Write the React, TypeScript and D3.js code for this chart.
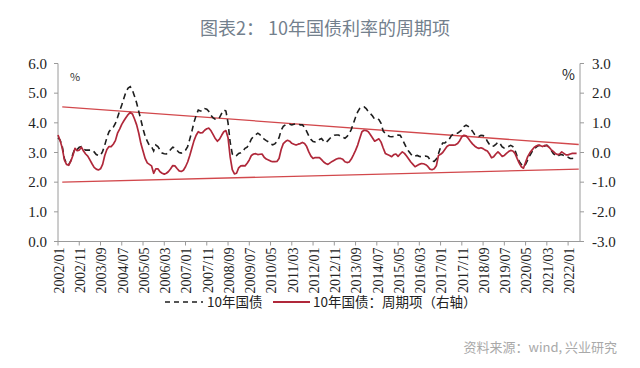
import React from "react";
import * as d3 from "d3";

// 10-year government bond yield (%), monthly from 2002/01
const yield10y: number[] = [
  3.5,3.42,3.2,2.8,2.62,2.58,2.72,2.95,3.14,3.1,
  3.18,3.2,3.12,3.08,3.08,3.08,3.08,3.02,2.93,2.9,
  2.9,3.04,3.25,3.5,3.7,3.79,3.85,3.98,4.18,4.4,
  4.6,4.83,5.05,5.17,5.22,5.1,4.9,4.67,4.38,4.1,
  3.8,3.55,3.38,3.24,3.2,3.05,3.25,3.2,3.08,2.98,
  2.96,2.95,3.02,3.1,3.18,3.15,3.07,3.0,2.98,3.02,
  3.08,3.2,3.45,3.72,4.02,4.25,4.43,4.4,4.4,4.48,
  4.46,4.38,4.25,4.17,4.12,4.11,4.18,4.32,4.43,4.4,
  4.0,3.35,2.95,2.87,2.9,2.97,2.99,3.05,3.14,3.18,
  3.3,3.46,3.54,3.6,3.65,3.6,3.52,3.45,3.4,3.36,
  3.29,3.26,3.29,3.37,3.5,3.75,3.88,3.93,3.95,3.95,
  3.93,3.95,3.97,3.96,3.93,3.93,3.85,3.71,3.56,3.44,
  3.37,3.36,3.38,3.44,3.47,3.38,3.33,3.4,3.48,3.54,
  3.58,3.59,3.59,3.55,3.51,3.48,3.54,3.63,3.78,3.98,
  4.19,4.37,4.49,4.54,4.54,4.48,4.38,4.31,4.23,4.12,
  4.13,4.11,3.98,3.72,3.64,3.58,3.54,3.53,3.54,3.58,
  3.59,3.58,3.45,3.3,3.15,3.04,2.95,2.87,2.88,2.9,
  2.87,2.86,2.86,2.88,2.86,2.76,2.71,2.7,2.78,2.96,
  3.17,3.32,3.32,3.38,3.44,3.56,3.62,3.65,3.65,3.7,
  3.76,3.87,3.92,3.88,3.81,3.72,3.61,3.56,3.54,3.58,
  3.57,3.52,3.38,3.27,3.2,3.22,3.27,3.35,3.3,3.19,
  3.15,3.17,3.2,3.24,3.2,3.08,2.88,2.7,2.6,2.53,
  2.6,2.75,2.9,3.02,3.12,3.18,3.23,3.25,3.21,3.22,
  3.25,3.18,3.08,2.97,2.9,2.87,2.92,2.93,2.9,2.86,
  2.84,2.8,2.8,2.81,2.82,
];

// Cycle component (%), right axis
const cycle: number[] = [
  0.59,0.40,0.15,-0.25,-0.40,-0.43,-0.30,-0.10,0.14,0.06,
  0.08,0.18,0.05,-0.05,-0.12,-0.25,-0.38,-0.50,-0.56,-0.59,
  -0.55,-0.40,-0.10,0.10,0.20,0.20,0.28,0.40,0.65,0.79,
  0.95,1.07,1.18,1.28,1.35,1.30,1.13,0.93,0.65,0.30,
  0.05,-0.20,-0.35,-0.40,-0.45,-0.70,-0.55,-0.55,-0.65,-0.70,
  -0.73,-0.70,-0.64,-0.55,-0.44,-0.45,-0.54,-0.62,-0.64,-0.60,
  -0.48,-0.32,-0.10,0.15,0.40,0.58,0.70,0.66,0.67,0.75,
  0.80,0.82,0.73,0.60,0.47,0.38,0.45,0.58,0.70,0.74,
  0.50,-0.15,-0.58,-0.72,-0.70,-0.52,-0.45,-0.44,-0.45,-0.36,
  -0.25,-0.10,-0.05,-0.04,-0.07,-0.06,-0.05,-0.16,-0.22,-0.25,
  -0.29,-0.31,-0.31,-0.30,-0.20,0.10,0.30,0.37,0.41,0.38,
  0.31,0.28,0.25,0.28,0.30,0.34,0.30,0.20,0.02,-0.12,
  -0.20,-0.17,-0.17,-0.17,-0.24,-0.32,-0.37,-0.40,-0.35,-0.30,
  -0.26,-0.22,-0.20,-0.20,-0.23,-0.31,-0.34,-0.32,-0.22,-0.08,
  0.07,0.25,0.48,0.70,0.75,0.74,0.70,0.60,0.49,0.38,
  0.42,0.46,0.35,0.15,-0.03,-0.07,-0.10,-0.14,-0.07,-0.05,
  -0.13,-0.05,0.02,-0.03,-0.12,-0.22,-0.32,-0.40,-0.48,-0.44,
  -0.40,-0.37,-0.38,-0.41,-0.47,-0.56,-0.58,-0.55,-0.45,-0.10,
  -0.06,0.00,0.10,0.20,0.25,0.25,0.25,0.26,0.30,0.40,
  0.53,0.58,0.56,0.48,0.38,0.29,0.22,0.17,0.14,0.16,
  0.13,0.08,0.05,-0.05,-0.18,-0.14,-0.05,0.02,-0.05,-0.13,
  -0.10,-0.03,0.03,0.07,0.05,-0.03,-0.20,-0.36,-0.48,-0.53,
  -0.33,-0.14,-0.01,0.08,0.17,0.22,0.25,0.23,0.20,0.24,
  0.23,0.18,0.10,0.04,-0.03,-0.07,-0.05,0.02,-0.03,-0.08,
  -0.08,-0.05,-0.03,-0.03,-0.03,
];

// Month categories
const months: string[] = yield10y.map((_, i) => {
  const y = 2002 + Math.floor(i / 12);
  const m = (i % 12) + 1;
  return `${y}/${m < 10 ? "0" + m : m}`;
});

const xTickLabels: string[] = [
  "2002/01","2002/11","2003/09","2004/07","2005/05","2006/03","2007/01",
  "2007/11","2008/09","2009/07","2010/05","2011/03","2012/01","2012/11",
  "2013/09","2014/07","2015/05","2016/03","2017/01","2017/11","2018/09",
  "2019/07","2020/05","2021/03","2022/01",
];

const leftTicks: number[] = [0, 1, 2, 3, 4, 5, 6];
const rightTicks: number[] = [-3, -2, -1, 0, 1, 2, 3];

// Trend channel lines on the cycle (right) axis
const upperTrendMonths: string[] = ["2002/03", "2022/06"];
const upperTrendValues: number[] = [1.54, 0.27];
const lowerTrendMonths: string[] = ["2002/03", "2022/06"];
const lowerTrendValues: number[] = [-1.0, -0.56];

const legendLabels: string[] = ["10年国债", "10年国债：周期项（右轴）"];

const monthIndex = (s: string) => {
  const [y, m] = s.split("/").map(Number);
  return (y - 2002) * 12 + (m - 1);
};

export default function App() {
  const W = 640, H = 368;
  const left = 58, right = 580, top = 63.5, bottom = 241.5;
  const x = d3.scaleLinear().domain([0, 245.6]).range([left, right]);
  const yL = d3.scaleLinear().domain([0, 6]).range([bottom, top]);
  const yR = d3.scaleLinear().domain([-3, 3]).range([bottom, top]);

  const yieldLine = d3.line<number>().x((_, i) => x(i)).y((d) => yL(d));
  const cycleLine = d3.line<number>().x((_, i) => x(i)).y((d) => yR(d));
  const trendLine = (ms: string[], vs: number[]) =>
    d3.line<number>().x((_, i) => x(monthIndex(ms[i]))).y((d) => yR(d))(vs) || "";

  const axisColor = "#9a9a9a";
  const serif = "'Liberation Serif', 'Times New Roman', serif";
  const cjk = "'Noto Sans CJK SC', 'Noto Sans', sans-serif";
  const red = "#b0283a";
  const trendRed = "#d2484c";

  return (
    <svg width={W} height={H} style={{ position: "absolute", left: 0, top: 0 }}>
      <rect width={W} height={H} fill="#fff" />
      {/* Title */}
      <text x={200} y={35} fontFamily={cjk} fontSize={18} fill="#73808d">图表2：</text>
      <text x={268} y={35} fontFamily={cjk} fontSize={18} fill="#73808d">10年国债利率的周期项</text>

      {/* Axes */}
      <line x1={left} x2={left} y1={top} y2={bottom} stroke={axisColor} />
      <line x1={right} x2={right} y1={top} y2={bottom} stroke={axisColor} />
      <line x1={left} x2={right} y1={bottom} y2={bottom} stroke={axisColor} />

      {leftTicks.map((t) => (
        <g key={"l" + t}>
          <line x1={left - 4} x2={left} y1={yL(t)} y2={yL(t)} stroke={axisColor} />
          <text x={left - 11} y={yL(t)} dy="0.35em" textAnchor="end" fontFamily={serif} fontSize={15} fill="#222">
            {t.toFixed(1)}
          </text>
        </g>
      ))}
      {rightTicks.map((t) => (
        <g key={"r" + t}>
          <line x1={right} x2={right + 4} y1={yR(t)} y2={yR(t)} stroke={axisColor} />
          <text x={592} y={yR(t)} dy="0.35em" textAnchor="start" fontFamily={serif} fontSize={15} fill="#222">
            {t.toFixed(1)}
          </text>
        </g>
      ))}
      {xTickLabels.map((lab) => {
        const xi = x(monthIndex(lab));
        return (
          <g key={lab}>
            <line x1={xi} x2={xi} y1={bottom} y2={bottom + 4} stroke={axisColor} />
            <text
              transform={`translate(${xi + 1},${bottom + 6}) rotate(-90)`}
              dy="0.35em"
              textAnchor="end"
              fontFamily={serif}
              fontSize={14}
              fill="#222"
            >
              {lab}
            </text>
          </g>
        );
      })}

      <text x={70} y={77} dy="0.35em" fontFamily={cjk} fontSize={11} fill="#333">%</text>
      <text x={562} y={75} dy="0.35em" fontFamily={cjk} fontSize={14} fill="#222">%</text>

      {/* Trend lines */}
      <path d={trendLine(upperTrendMonths, upperTrendValues)} stroke={trendRed} strokeWidth={1.3} fill="none" />
      <path d={trendLine(lowerTrendMonths, lowerTrendValues)} stroke={trendRed} strokeWidth={1.3} fill="none" />

      {/* Series */}
      <path d={yieldLine(yield10y) || ""} stroke="#1e1e1e" strokeWidth={1.6} strokeDasharray="6,4" fill="none" />
      <path d={cycleLine(cycle) || ""} stroke={red} strokeWidth={1.7} fill="none" strokeLinejoin="round" />

      {/* Legend */}
      <line x1={165} x2={203} y1={302} y2={302} stroke="#1e1e1e" strokeWidth={1.6} strokeDasharray="5,4" />
      <text x={207} y={302} dy="0.35em" fontFamily={cjk} fontSize={13.5} fill="#222">{legendLabels[0]}</text>
      <line x1={273} x2={310} y1={302} y2={302} stroke={red} strokeWidth={1.8} />
      <text x={313} y={302} dy="0.35em" fontFamily={cjk} fontSize={13.5} fill="#222">{legendLabels[1]}</text>

      {/* Source */}
      <text x={617} y={347} dy="0.35em" textAnchor="end" fontFamily={cjk} fontSize={13} fill="#a9a9a9">
        资料来源：wind, 兴业研究
      </text>
      <desc>{months.length}</desc>
    </svg>
  );
}
